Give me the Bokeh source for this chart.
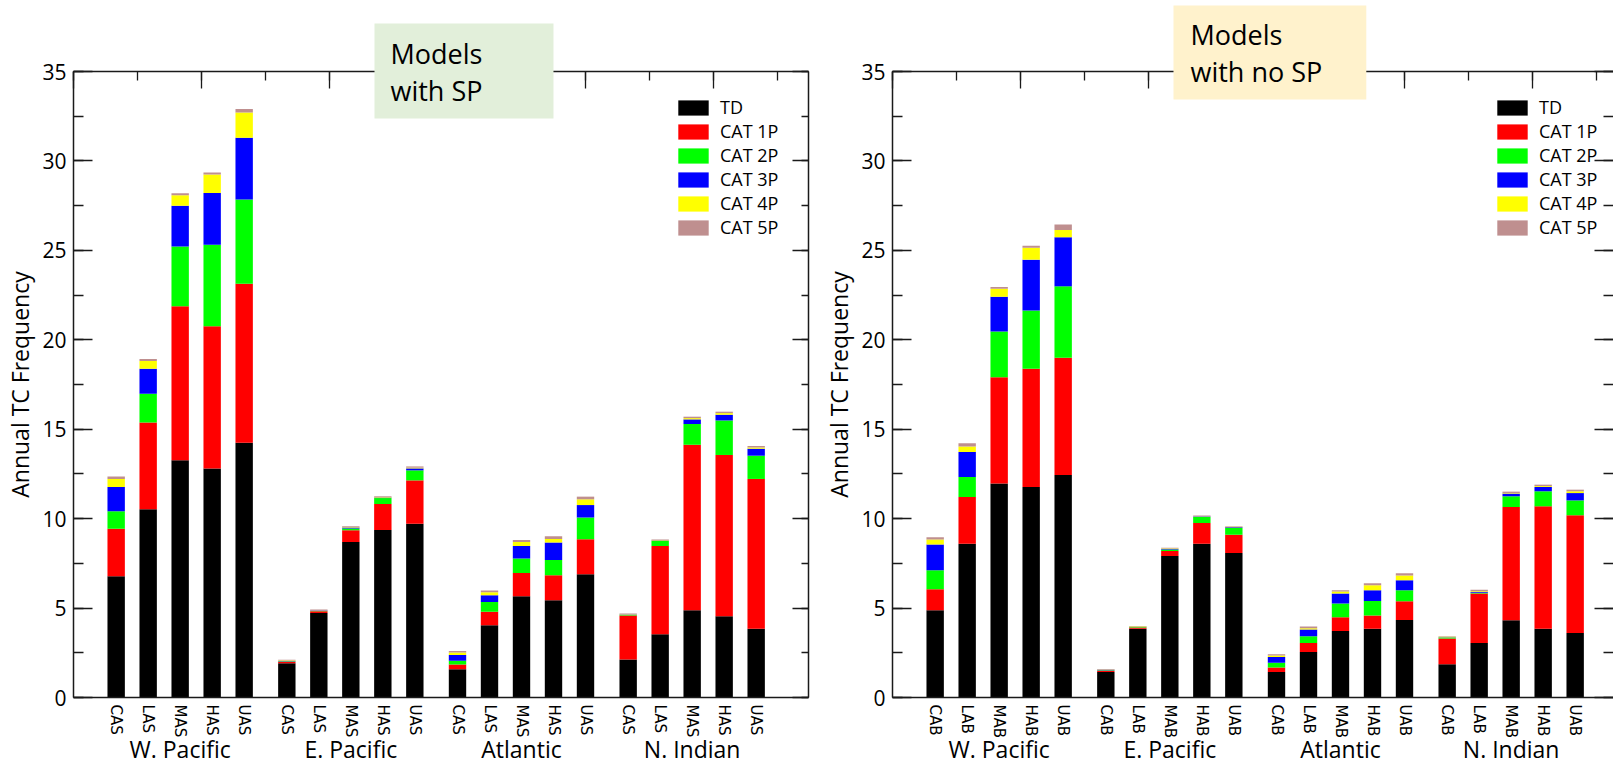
from bokeh.plotting import figure
from bokeh.layouts import row
from bokeh.models import (Range1d, LinearAxis, FixedTicker, SingleIntervalTicker,
                          CustomJSTickFormatter, Title, ColumnDataSource)
from bokeh.embed import file_html
from bokeh.resources import INLINE

# ---- data -------------------------------------------------------------
basins = ["W. Pacific", "E. Pacific", "Atlantic", "N. Indian"]
sp_models = ["CAS", "LAS", "MAS", "HAS", "UAS"]
nosp_models = ["CAB", "LAB", "MAB", "HAB", "UAB"]
categories = ["TD", "CAT 1P", "CAT 2P", "CAT 3P", "CAT 4P", "CAT 5P"]
cat_colors = ["#000000", "#ff0000", "#00ff00", "#0000ff", "#ffff00", "#bf8f8f"]

# annual frequency per category; 20 bars = 4 basins x 5 models
sp_td = [6.78, 10.52, 13.26, 12.81, 14.25, 1.92, 4.72, 8.70, 9.37, 9.72,
         1.58, 4.04, 5.66, 5.44, 6.89, 2.12, 3.54, 4.88, 4.54, 3.85]
sp_cat1 = [2.66, 4.86, 8.62, 7.94, 8.88, 0.08, 0.10, 0.65, 1.45, 2.42,
           0.26, 0.75, 1.30, 1.39, 1.96, 2.46, 4.93, 9.25, 9.02, 8.37]
sp_cat2 = [0.97, 1.60, 3.34, 4.57, 4.71, 0.02, 0.02, 0.10, 0.33, 0.56,
           0.21, 0.55, 0.81, 0.86, 1.21, 0.04, 0.28, 1.16, 1.93, 1.30]
sp_cat3 = [1.36, 1.40, 2.28, 2.89, 3.45, 0.02, 0.02, 0.05, 0.03, 0.11,
           0.33, 0.38, 0.70, 0.97, 0.70, 0.02, 0.03, 0.26, 0.32, 0.39]
sp_cat4 = [0.45, 0.43, 0.58, 1.03, 1.42, 0.03, 0.02, 0.03, 0.03, 0.04,
           0.13, 0.16, 0.23, 0.20, 0.32, 0.02, 0.02, 0.07, 0.09, 0.07]
sp_cat5 = [0.13, 0.11, 0.11, 0.11, 0.20, 0.04, 0.04, 0.05, 0.04, 0.07,
           0.09, 0.10, 0.11, 0.15, 0.15, 0.04, 0.03, 0.08, 0.08, 0.08]

nosp_td = [4.88, 8.60, 11.96, 11.77, 12.44, 1.42, 3.85, 7.91, 8.60, 8.08,
           1.43, 2.55, 3.72, 3.85, 4.34, 1.86, 3.05, 4.32, 3.85, 3.61]
nosp_cat1 = [1.17, 2.61, 5.95, 6.61, 6.56, 0.08, 0.07, 0.28, 1.16, 1.02,
             0.25, 0.50, 0.77, 0.73, 1.04, 1.44, 2.76, 6.33, 6.84, 6.58]
nosp_cat2 = [1.06, 1.12, 2.56, 3.26, 3.99, 0.03, 0.02, 0.08, 0.33, 0.38,
             0.26, 0.38, 0.76, 0.82, 0.62, 0.05, 0.05, 0.60, 0.84, 0.83]
nosp_cat3 = [1.44, 1.39, 1.94, 2.84, 2.74, 0.02, 0.02, 0.03, 0.03, 0.04,
             0.33, 0.37, 0.56, 0.60, 0.55, 0.02, 0.04, 0.15, 0.24, 0.41]
nosp_cat4 = [0.28, 0.32, 0.44, 0.67, 0.41, 0.02, 0.02, 0.03, 0.02, 0.03,
             0.08, 0.07, 0.11, 0.28, 0.27, 0.02, 0.04, 0.03, 0.05, 0.10]
nosp_cat5 = [0.13, 0.17, 0.10, 0.11, 0.30, 0.03, 0.02, 0.04, 0.03, 0.03,
             0.07, 0.10, 0.08, 0.11, 0.13, 0.03, 0.08, 0.08, 0.08, 0.09]

# ---- layout constants (x axis in thirds of a bar slot) -----------------
FIRST, BAR_STEP, GROUP_STEP = 4, 3, 16
PX_PER_UNIT = 32 / 3
FRAME_H = 626
TOP, BOTTOM = 71, 66
FONT = "Open Sans"
INK = "#1a1a1a"

STACK_KEYS = ["td", "c1", "c2", "c3", "c4", "c5"]


def make_panel(models, series, frame_w, border_left, border_right,
               box_text, box_color, box_offset, box_standoff, box_pad,
               right_line=True, right_major=16, right_minor=7):
    n_models = len(models)
    xs = [FIRST + GROUP_STEP * g + BAR_STEP * i
          for g in range(len(basins)) for i in range(n_models)]
    centers = [FIRST + GROUP_STEP * g + BAR_STEP * (n_models - 1) // 2
               for g in range(len(basins))]
    data = {"x": xs}
    for k, s in zip(STACK_KEYS, series):
        data[k] = s
    src = ColumnDataSource(data)

    p = figure(frame_width=frame_w, frame_height=FRAME_H,
               x_range=Range1d(0, frame_w / PX_PER_UNIT), y_range=Range1d(0, 35),
               x_axis_location=None, y_axis_location=None,
               min_border_left=border_left, min_border_right=border_right,
               min_border_top=TOP, min_border_bottom=BOTTOM,
               outline_line_color=None, background_fill_color="white",
               border_fill_color="white",
               output_backend="svg", toolbar_location=None)
    p.xgrid.visible = False
    p.ygrid.visible = False

    p.vbar_stack(STACK_KEYS, x="x", width=1.63, color=cat_colors,
                 line_color=None, source=src, legend_label=categories)

    empty = CustomJSTickFormatter(code="return ''")
    tick_style = dict(axis_line_width=1.5, major_tick_line_color=INK,
                      minor_tick_line_color=INK, major_tick_line_width=1.3,
                      minor_tick_line_width=1.3, major_tick_out=0, minor_tick_out=0)

    # left value axis
    yl = LinearAxis(ticker=SingleIntervalTicker(interval=5, num_minor_ticks=2),
                    axis_label="Annual TC Frequency",
                    axis_label_text_font=FONT, axis_label_text_font_size="23px",
                    axis_label_text_font_style="normal", axis_label_text_color="black",
                    axis_label_standoff=3,
                    major_label_text_font=FONT, major_label_text_font_size="21px",
                    major_label_text_color="black", major_label_standoff=7,
                    major_tick_in=19, minor_tick_in=10,
                    axis_line_color=INK, **tick_style)
    p.add_layout(yl, "left")

    # right value axis (ticks only)
    yr = LinearAxis(ticker=SingleIntervalTicker(interval=5, num_minor_ticks=2),
                    formatter=empty, major_label_text_font_size="0px",
                    major_label_standoff=0,
                    major_tick_in=right_major, minor_tick_in=right_minor,
                    axis_line_color=INK if right_line else None, **tick_style)
    p.add_layout(yr, "right")

    # top axis (ticks only)
    xt = LinearAxis(ticker=SingleIntervalTicker(interval=12, num_minor_ticks=2),
                    formatter=empty, major_label_text_font_size="0px",
                    major_label_standoff=0,
                    major_tick_in=17, minor_tick_in=9,
                    axis_line_color=INK, **tick_style)
    p.add_layout(xt, "above")

    # bottom axis with model names
    xb = LinearAxis(ticker=FixedTicker(ticks=xs, minor_ticks=[]),
                    major_label_overrides={x: m for x, m in zip(xs, models * len(basins))},
                    major_label_orientation="vertical",
                    major_label_text_font="DejaVu Sans",
                    major_label_text_font_size="15px",
                    major_label_text_color="black", major_label_standoff=7,
                    major_tick_in=0, major_tick_out=0,
                    minor_tick_line_color=None, major_tick_line_color=None,
                    axis_line_width=1.5, axis_line_color=INK)
    p.add_layout(xb, "below")

    # basin names under each group of bars
    xg = LinearAxis(ticker=FixedTicker(ticks=centers, minor_ticks=[]),
                    major_label_overrides={c: b for c, b in zip(centers, basins)},
                    major_label_text_font=FONT, major_label_text_font_size="23px",
                    major_label_text_color="black", major_label_standoff=-8,
                    major_tick_in=0, major_tick_out=0,
                    minor_tick_line_color=None, major_tick_line_color=None,
                    axis_line_color=None)
    p.add_layout(xg, "below")

    # boxed caption overlapping the top edge
    cap = Title(text=box_text, align="left", vertical_align="bottom",
                offset=box_offset, standoff=box_standoff,
                text_font=FONT, text_font_size="27px", text_font_style="normal",
                text_color="black", text_line_height=1.0,
                background_fill_color=box_color, padding=box_pad)
    p.add_layout(cap, "above")

    lg = p.legend[0]
    lg.location = (601, 458)
    lg.glyph_width = 38
    lg.glyph_height = 19
    lg.label_height = 19
    lg.label_standoff = 8
    lg.spacing = 0
    lg.padding = 0
    lg.margin = 0
    lg.border_line_color = None
    lg.background_fill_alpha = 0
    lg.label_text_font = FONT
    lg.label_text_font_size = "18px"
    lg.label_text_color = "black"
    return p


left = make_panel(sp_models, [sp_td, sp_cat1, sp_cat2, sp_cat3, sp_cat4, sp_cat5],
                  frame_w=735, border_left=73, border_right=10,
                  box_text="Models\nwith SP", box_color="#e2efda",
                  box_offset=301, box_standoff=-94,
                  box_pad=dict(left=16, right=71, top=11, bottom=10))

right = make_panel(nosp_models, [nosp_td, nosp_cat1, nosp_cat2, nosp_cat3, nosp_cat4, nosp_cat5],
                   frame_w=721, border_left=74, border_right=0,
                   box_text="Models\nwith no SP", box_color="#fff2cc",
                   box_offset=281, box_standoff=-56,
                   box_pad=dict(left=17, right=44, top=10, bottom=10),
                   right_line=False, right_major=19, right_minor=10)

layout = row(left, right, spacing=0)
open("out.html", "w").write(file_html(layout, INLINE))
